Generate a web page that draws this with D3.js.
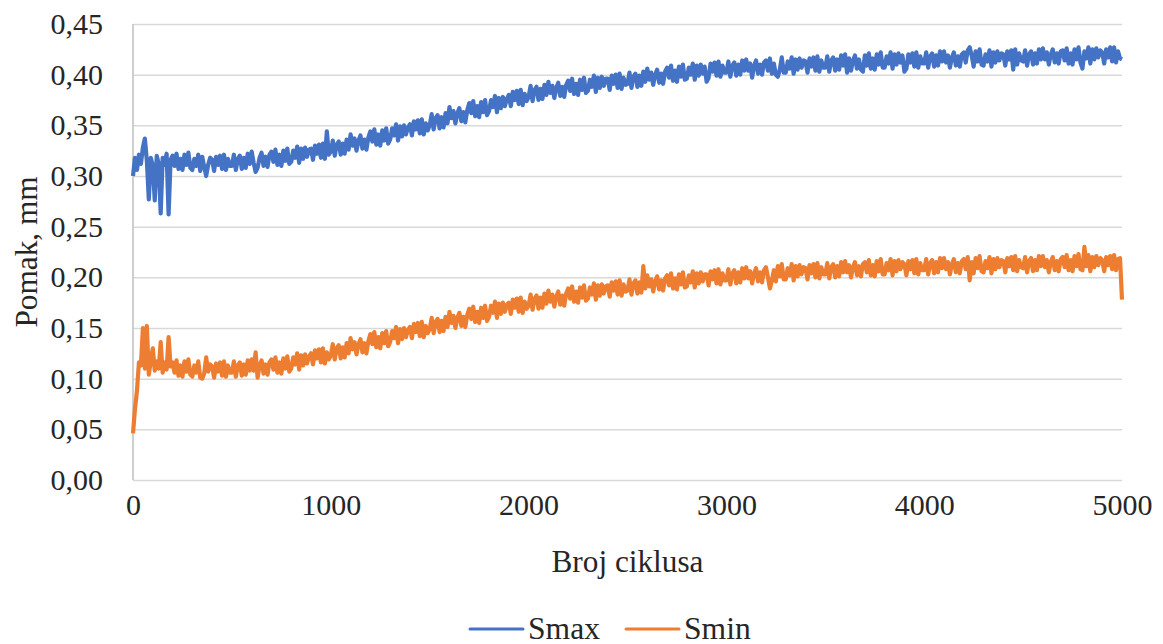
<!DOCTYPE html>
<html>
<head>
<meta charset="utf-8">
<script src="https://cdn.jsdelivr.net/npm/d3@7"></script>
<style>
  html, body { margin: 0; padding: 0; background: #fff; }
  svg { display: block; }
</style>
</head>
<body>
<svg id="chart" width="1163" height="644"></svg>
<script>
// ---- data (cycles every 10 from 0 to 5000) ----
const cycleStep = 10;
const cycleMax = 5000;
const yTicks = [0, 0.05, 0.10, 0.15, 0.20, 0.25, 0.30, 0.35, 0.40, 0.45];
const xTicks = [0, 1000, 2000, 3000, 4000, 5000];
const seriesNames = ["Smax", "Smin"];
const seriesColors = ["#4472C4", "#ED7D31"];

const smax = [
0.300,0.318,0.306,0.321,0.312,0.328,0.337,0.315,0.277,0.318,
0.310,0.276,0.320,0.312,0.263,0.318,0.311,0.322,0.262,0.316,
0.320,0.310,0.322,0.307,0.317,0.306,0.321,0.311,0.323,0.308,
0.306,0.317,0.310,0.321,0.305,0.319,0.309,0.300,0.311,0.318,
0.316,0.305,0.319,0.311,0.320,0.307,0.321,0.306,0.317,0.310,
0.310,0.321,0.306,0.317,0.320,0.307,0.318,0.308,0.322,0.312,
0.324,0.313,0.304,0.308,0.318,0.323,0.310,0.319,0.309,0.321,
0.324,0.314,0.326,0.311,0.321,0.310,0.325,0.315,0.327,0.312,
0.314,0.325,0.318,0.329,0.313,0.327,0.317,0.328,0.319,0.326,
0.327,0.316,0.330,0.322,0.331,0.318,0.332,0.317,0.344,0.321,
0.324,0.335,0.320,0.331,0.334,0.321,0.332,0.322,0.336,0.326,
0.341,0.330,0.337,0.325,0.335,0.340,0.327,0.336,0.326,0.338,
0.344,0.334,0.346,0.331,0.341,0.330,0.345,0.335,0.347,0.332,
0.336,0.347,0.340,0.351,0.335,0.349,0.339,0.350,0.341,0.348,
0.351,0.340,0.354,0.346,0.355,0.342,0.356,0.341,0.352,0.345,
0.350,0.361,0.346,0.357,0.360,0.347,0.358,0.348,0.362,0.352,
0.368,0.357,0.364,0.352,0.362,0.367,0.354,0.363,0.353,0.365,
0.372,0.362,0.374,0.359,0.369,0.358,0.373,0.363,0.375,0.360,
0.364,0.375,0.368,0.379,0.363,0.377,0.367,0.378,0.369,0.376,
0.380,0.369,0.383,0.375,0.384,0.371,0.385,0.370,0.381,0.374,
0.378,0.389,0.374,0.385,0.388,0.375,0.386,0.376,0.390,0.380,
0.393,0.382,0.389,0.377,0.387,0.392,0.379,0.388,0.378,0.390,
0.394,0.384,0.396,0.381,0.391,0.380,0.395,0.385,0.397,0.382,
0.384,0.395,0.388,0.399,0.383,0.397,0.387,0.398,0.389,0.396,
0.396,0.385,0.399,0.391,0.400,0.387,0.401,0.386,0.397,0.390,
0.391,0.402,0.387,0.398,0.401,0.388,0.399,0.389,0.403,0.393,
0.406,0.395,0.402,0.390,0.400,0.405,0.392,0.401,0.391,0.403,
0.407,0.397,0.409,0.394,0.404,0.393,0.408,0.398,0.410,0.395,
0.396,0.407,0.400,0.411,0.395,0.409,0.399,0.410,0.401,0.408,
0.393,0.397,0.411,0.403,0.412,0.399,0.413,0.398,0.409,0.402,
0.402,0.413,0.398,0.409,0.412,0.399,0.410,0.400,0.414,0.404,
0.415,0.404,0.411,0.397,0.409,0.414,0.401,0.410,0.400,0.412,
0.414,0.404,0.416,0.401,0.411,0.400,0.398,0.405,0.417,0.402,
0.402,0.413,0.406,0.417,0.401,0.415,0.405,0.416,0.407,0.414,
0.413,0.402,0.416,0.408,0.417,0.404,0.418,0.403,0.414,0.407,
0.407,0.418,0.403,0.414,0.417,0.404,0.415,0.405,0.419,0.409,
0.420,0.402,0.416,0.404,0.414,0.419,0.406,0.415,0.405,0.403,
0.419,0.409,0.421,0.406,0.416,0.405,0.420,0.410,0.422,0.407,
0.407,0.418,0.411,0.422,0.406,0.420,0.410,0.421,0.412,0.419,
0.403,0.406,0.420,0.412,0.421,0.408,0.422,0.407,0.418,0.411,
0.411,0.422,0.407,0.418,0.421,0.408,0.419,0.409,0.423,0.413,
0.423,0.412,0.419,0.407,0.417,0.422,0.409,0.418,0.408,0.420,
0.422,0.412,0.424,0.427,0.419,0.408,0.423,0.413,0.425,0.410,
0.409,0.420,0.413,0.424,0.408,0.422,0.412,0.423,0.414,0.421,
0.420,0.409,0.423,0.415,0.424,0.405,0.425,0.410,0.421,0.414,
0.413,0.424,0.409,0.420,0.423,0.410,0.421,0.411,0.425,0.415,
0.426,0.415,0.422,0.410,0.420,0.425,0.412,0.421,0.411,0.423,
0.424,0.414,0.426,0.411,0.421,0.410,0.425,0.415,0.427,0.412,
0.406,0.423,0.416,0.427,0.411,0.425,0.415,0.426,0.417,0.424,
0.422,0.411,0.425,0.417,0.427,0.413,0.427,0.412,0.423,0.416,
0.415
];

const smin = [
0.046,0.070,0.088,0.116,0.113,0.150,0.110,0.152,0.104,0.118,
0.130,0.108,0.117,0.110,0.136,0.106,0.116,0.109,0.141,0.112,
0.116,0.106,0.118,0.103,0.113,0.102,0.117,0.107,0.119,0.104,
0.102,0.113,0.106,0.117,0.101,0.100,0.105,0.121,0.107,0.114,
0.112,0.101,0.115,0.107,0.116,0.103,0.117,0.102,0.113,0.106,
0.106,0.117,0.102,0.113,0.116,0.103,0.114,0.104,0.118,0.108,
0.119,0.108,0.126,0.101,0.113,0.118,0.105,0.114,0.104,0.116,
0.119,0.109,0.121,0.106,0.116,0.105,0.120,0.110,0.122,0.107,
0.110,0.121,0.114,0.125,0.109,0.123,0.113,0.124,0.115,0.122,
0.125,0.114,0.128,0.120,0.129,0.116,0.130,0.115,0.126,0.119,
0.123,0.134,0.119,0.130,0.133,0.120,0.131,0.121,0.135,0.125,
0.140,0.129,0.136,0.124,0.134,0.139,0.126,0.135,0.125,0.137,
0.144,0.134,0.146,0.131,0.141,0.130,0.145,0.135,0.147,0.132,
0.136,0.147,0.140,0.151,0.135,0.149,0.139,0.150,0.141,0.148,
0.151,0.140,0.154,0.146,0.155,0.142,0.156,0.141,0.152,0.145,
0.149,0.160,0.145,0.156,0.159,0.146,0.157,0.147,0.161,0.151,
0.166,0.155,0.162,0.150,0.160,0.165,0.152,0.161,0.151,0.163,
0.169,0.159,0.171,0.156,0.166,0.155,0.170,0.160,0.172,0.157,
0.161,0.172,0.165,0.176,0.160,0.174,0.164,0.175,0.166,0.173,
0.175,0.164,0.178,0.170,0.179,0.166,0.180,0.165,0.176,0.169,
0.172,0.183,0.168,0.179,0.182,0.169,0.180,0.170,0.184,0.174,
0.187,0.176,0.183,0.171,0.181,0.186,0.173,0.182,0.172,0.184,
0.189,0.179,0.191,0.176,0.186,0.175,0.190,0.180,0.192,0.177,
0.179,0.190,0.183,0.194,0.178,0.192,0.182,0.193,0.184,0.191,
0.192,0.181,0.195,0.187,0.196,0.183,0.197,0.182,0.193,0.186,
0.187,0.198,0.183,0.194,0.197,0.184,0.195,0.185,0.211,0.189,
0.202,0.191,0.198,0.186,0.196,0.201,0.188,0.197,0.187,0.199,
0.202,0.192,0.204,0.189,0.199,0.188,0.203,0.193,0.205,0.190,
0.191,0.202,0.195,0.206,0.190,0.204,0.194,0.205,0.196,0.203,
0.203,0.192,0.206,0.198,0.207,0.194,0.208,0.193,0.204,0.197,
0.197,0.208,0.193,0.204,0.207,0.194,0.205,0.195,0.209,0.199,
0.210,0.199,0.206,0.194,0.204,0.209,0.196,0.205,0.195,0.207,
0.210,0.200,0.189,0.197,0.207,0.196,0.211,0.201,0.213,0.198,
0.198,0.209,0.202,0.213,0.197,0.211,0.201,0.212,0.203,0.210,
0.209,0.198,0.212,0.204,0.213,0.200,0.214,0.199,0.210,0.203,
0.203,0.214,0.199,0.210,0.213,0.200,0.211,0.201,0.215,0.205,
0.216,0.205,0.212,0.200,0.210,0.215,0.202,0.211,0.201,0.213,
0.215,0.205,0.217,0.202,0.212,0.201,0.216,0.206,0.218,0.203,
0.203,0.214,0.207,0.218,0.202,0.216,0.206,0.217,0.208,0.215,
0.213,0.202,0.216,0.208,0.217,0.204,0.218,0.203,0.214,0.207,
0.207,0.218,0.203,0.214,0.217,0.204,0.215,0.205,0.219,0.209,
0.219,0.208,0.215,0.203,0.213,0.218,0.205,0.214,0.204,0.216,
0.218,0.208,0.220,0.197,0.215,0.204,0.219,0.209,0.221,0.206,
0.205,0.216,0.209,0.220,0.204,0.218,0.208,0.219,0.210,0.217,
0.216,0.205,0.219,0.211,0.220,0.207,0.221,0.206,0.217,0.210,
0.209,0.220,0.205,0.216,0.219,0.206,0.217,0.207,0.221,0.211,
0.221,0.210,0.217,0.205,0.215,0.220,0.207,0.216,0.206,0.218,
0.220,0.210,0.222,0.207,0.217,0.206,0.221,0.211,0.223,0.208,
0.207,0.230,0.211,0.222,0.206,0.220,0.210,0.221,0.212,0.219,
0.217,0.206,0.220,0.212,0.221,0.208,0.222,0.207,0.218,0.219,
0.178
];

const cycles = d3.range(0, cycleMax + cycleStep, cycleStep);

// ---- font selection: first serif family that is really installed ----
const svg = d3.select("#chart");
function measure(family, str) {
  const t = svg.append("text").attr("font-size", 100).attr("font-family", family).text(str);
  const w = t.node().getComputedTextLength();
  t.remove();
  return w;
}
const probe = "Broj ciklusa 0,45 Pomak";
const baseW = measure("monospace", probe);
const candidates = ["Liberation Serif", "Tinos", "Times New Roman", "Nimbus Roman", "Noto Serif", "DejaVu Serif"];
let FONT = "serif";
for (const c of candidates) {
  if (Math.abs(measure(`"${c}", monospace`, probe) - baseW) > 0.5) { FONT = `"${c}", serif`; break; }
}
// size fonts to the reference text widths
const tickSize = 60 / measure(FONT, "1000") * 100;
const titleSize = 152 / measure(FONT, "Broj ciklusa") * 100;
const legendSize = 72 / measure(FONT, "Smax") * 100;

// ---- layout ----
const margin = { left: 133, right: 41, top: 24, bottom: 164 };
const W = 1163, H = 644;
const plotW = W - margin.left - margin.right;
const plotH = H - margin.top - margin.bottom;

const x = d3.scaleLinear().domain([0, cycleMax]).range([margin.left, margin.left + plotW]);
const y = d3.scaleLinear().domain([0, 0.45]).range([margin.top + plotH, margin.top]);

const fmt = v => d3.format(".2f")(v).replace(".", ",");

// gridlines + y tick labels
const yAxis = d3.axisLeft(y).tickValues(yTicks).tickSize(-plotW).tickFormat(fmt).tickPadding(30);
const gy = svg.append("g").attr("transform", `translate(${margin.left},0)`).call(yAxis)
  .attr("font-family", FONT);
gy.select(".domain").remove();
gy.selectAll(".tick line").attr("stroke", "#d9d9d9").attr("stroke-width", 1.5);
gy.selectAll(".tick text").attr("font-size", tickSize).attr("fill", "#262626").attr("font-family", FONT);

// left vertical axis line
svg.append("line")
  .attr("x1", margin.left).attr("x2", margin.left)
  .attr("y1", margin.top).attr("y2", margin.top + plotH)
  .attr("stroke", "#bfbfbf").attr("stroke-width", 1.5);

const xAxis = d3.axisBottom(x).tickValues(xTicks).tickSize(0).tickPadding(14).tickFormat(d3.format("d"));
const gx = svg.append("g").attr("transform", `translate(0,${margin.top + plotH})`).call(xAxis)
  .attr("font-family", FONT);
gx.select(".domain").remove();
gx.selectAll(".tick text").attr("font-size", tickSize).attr("fill", "#262626").attr("font-family", FONT);

// lines
const seriesData = [smax, smin];
const line = d3.line().x((d, i) => x(cycles[i])).y(d => y(d));
seriesData.forEach((s, k) => {
  svg.append("path")
    .datum(s)
    .attr("fill", "none")
    .attr("stroke", seriesColors[k])
    .attr("stroke-width", 4.2)
    .attr("stroke-linejoin", "round")
    .attr("d", line);
});

// axis titles
svg.append("text")
  .attr("x", margin.left + plotW / 2).attr("y", 572)
  .attr("text-anchor", "middle").attr("font-size", titleSize)
  .attr("font-family", FONT).attr("fill", "#262626")
  .text("Broj ciklusa");

svg.append("text")
  .attr("transform", `translate(37,${margin.top + plotH / 2}) rotate(-90)`)
  .attr("text-anchor", "middle").attr("font-size", titleSize)
  .attr("font-family", FONT).attr("fill", "#262626")
  .text("Pomak, mm");

// legend
const legendX = [470, 626];
seriesNames.forEach((n, k) => {
  const g = svg.append("g").attr("transform", `translate(${legendX[k]},629)`);
  g.append("line").attr("x1", 0).attr("x2", 53).attr("y1", 0).attr("y2", 0)
    .attr("stroke", seriesColors[k]).attr("stroke-width", 3).attr("stroke-linecap", "round");
  g.append("text").attr("x", 58).attr("y", 10).attr("font-size", legendSize)
    .attr("font-family", FONT).attr("fill", "#262626").text(n);
});
</script>
</body>
</html>
